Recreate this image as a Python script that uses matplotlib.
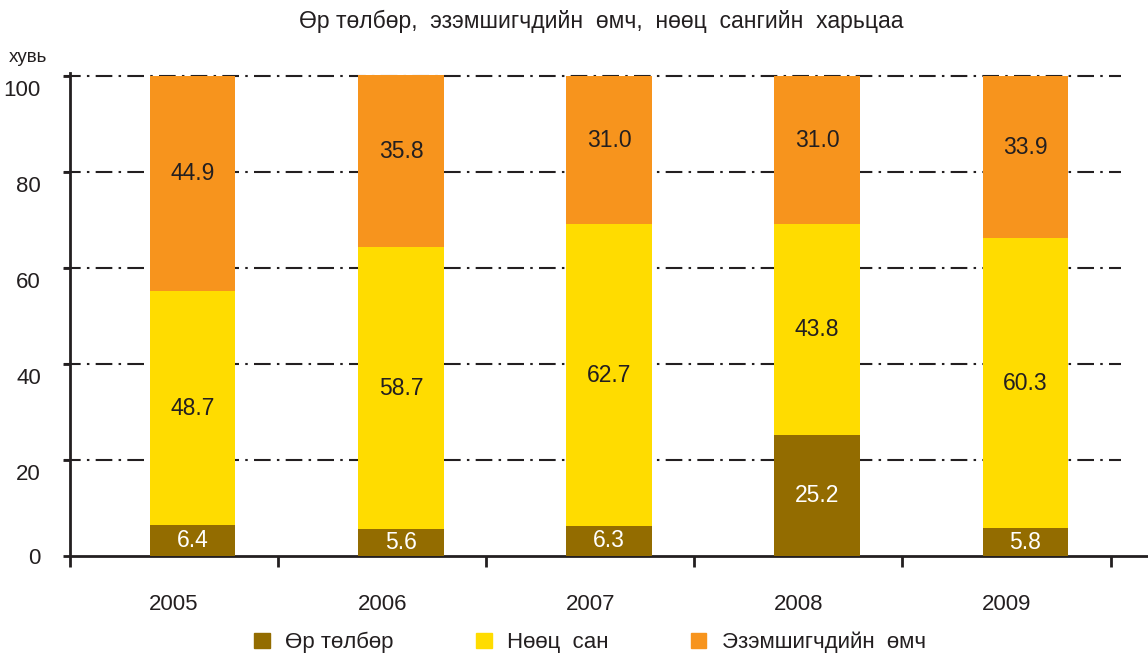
import numpy as np
import matplotlib.pyplot as plt
import matplotlib.transforms as mtransforms
from matplotlib.patches import Patch

plt.rcParams['font.family'] = ['Liberation Sans', 'DejaVu Sans']

years = ['2005', '2006', '2007', '2008', '2009']
debt = [6.4, 5.6, 6.3, 25.2, 5.8]          # Өр төлбөр
reserve = [48.7, 58.7, 62.7, 43.8, 60.3]   # Нөөц сан
equity = [44.9, 35.8, 31.0, 31.0, 33.9]    # Эзэмшигчдийн өмч
yticks = [0, 20, 40, 60, 80, 100]

c_debt = '#936c00'
c_res = '#ffdc00'
c_eq = '#f7941d'
txt = '#231f20'

fig = plt.figure(figsize=(11.48, 6.57), dpi=100)
ax = fig.add_axes([0.061, 0.1537, 0.939, 0.735])

x = np.arange(len(years))
xb = x + 0.09
w = 0.41
debt = np.array(debt)
reserve = np.array(reserve)
equity = np.array(equity)

ax.bar(xb, debt, w, color=c_debt, zorder=3)
ax.bar(xb, reserve, w, bottom=debt, color=c_res, zorder=3)
ax.bar(xb, equity, w, bottom=debt + reserve, color=c_eq, zorder=3)

for i in range(len(years)):
    ax.text(xb[i], debt[i] / 2, f'{debt[i]:.1f}', ha='center', va='center',
            color='white', fontsize=16.5, zorder=4)
    ax.text(xb[i], debt[i] + reserve[i] / 2, f'{reserve[i]:.1f}', ha='center',
            va='center', color=txt, fontsize=16.5, zorder=4)
    ax.text(xb[i], debt[i] + reserve[i] + equity[i] / 2 + 2, f'{equity[i]:.1f}',
            ha='center', va='center', color=txt, fontsize=16.5, zorder=4)

# dash-dot grid lines (behind the bars)
for yv in yticks[1:]:
    ax.plot([-0.53, 4.55], [yv, yv], color=txt, lw=1.5, ls=(0, (8, 3, 1.2, 3)),
            clip_on=False, zorder=2)

ax.set_xlim(-0.5, 4.68)
ax.set_ylim(0, 100.5)
ax.set_yticks(yticks)
ax.set_yticklabels([str(v) for v in yticks], fontsize=16, color=txt)
ax.set_xticks(x)
ax.set_xticklabels(years, fontsize=16, color=txt)
ax.set_xticks(np.arange(-0.5, 4.6, 1.0), minor=True)
ax.tick_params(axis='x', which='major', length=0, pad=27)
ax.tick_params(axis='x', which='minor', length=8, width=2, color=txt, direction='out')
ax.tick_params(axis='y', length=5, width=2, color=txt, pad=16)

# y labels sit a little below their grid lines in the original
shift = mtransforms.ScaledTranslation(0, -12 / 100, fig.dpi_scale_trans)
for lab in ax.get_yticklabels()[1:]:
    lab.set_transform(lab.get_transform() + shift)

for s in ['top', 'right']:
    ax.spines[s].set_visible(False)
for s in ['left', 'bottom']:
    ax.spines[s].set_linewidth(2)
    ax.spines[s].set_color(txt)

fig.text(0.524, 0.968, 'Өр төлбөр,  эзэмшигчдийн  өмч,  нөөц  сангийн  харьцаа',
         ha='center', va='center', fontsize=16.5, color=txt)
fig.text(0.008, 0.913, 'хувь', ha='left', va='center', fontsize=13.5, color=txt)

handles = [Patch(color=c_debt), Patch(color=c_res), Patch(color=c_eq)]
labels = ['Өр төлбөр', 'Нөөц  сан', 'Эзэмшигчдийн  өмч']
fig.legend(handles, labels, loc='center', bbox_to_anchor=(0.514, 0.022), ncol=3,
           frameon=False, fontsize=16, handlelength=0.7, handleheight=0.7,
           columnspacing=3.7, handletextpad=0.7, labelcolor=txt)

fig.savefig('out.png', dpi=100)
